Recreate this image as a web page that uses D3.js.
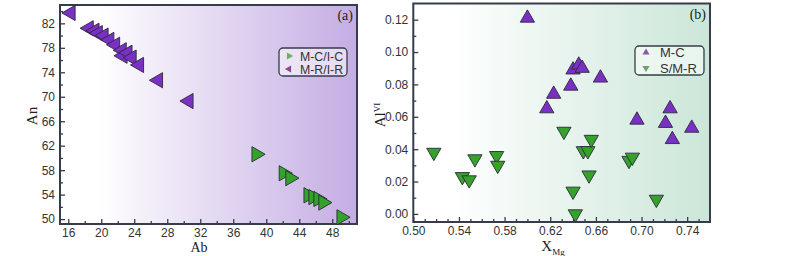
<!DOCTYPE html>
<html><head><meta charset="utf-8">
<script src="https://cdn.jsdelivr.net/npm/d3@7"></script>
<style>body{margin:0;background:#fff}svg{display:block}</style>
</head><body>
<svg id="c" width="800" height="256"></svg>
<script>
// ---- Panel (a) data ----
const mcIcAb = [38.8, 42.1, 42.9, 45.1, 45.7, 46.3, 46.9, 49.1];
const mcIcAn = [60.6, 57.5, 56.7, 53.9, 53.6, 53.3, 52.7, 50.3];
const mrIrAb = [16.3, 18.5, 19.2, 19.6, 20.3, 21.0, 21.7, 22.5, 22.6, 23.2, 23.7, 24.6, 26.9, 30.6];
const mrIrAn = [83.7, 81.2, 80.8, 80.4, 80.0, 79.3, 78.5, 77.6, 76.7, 77.2, 76.4, 75.2, 72.7, 69.3];
const abTicks = [16, 20, 24, 28, 32, 36, 40, 44, 48];
const anTicks = [50, 54, 58, 62, 66, 70, 74, 78, 82];
const legendA = ["M-C/I-C", "M-R/I-R"];
// ---- Panel (b) data ----
const mcX = [0.600, 0.617, 0.623, 0.638, 0.640, 0.645, 0.648, 0.664, 0.696, 0.721, 0.725, 0.727, 0.744];
const mcY = [0.121, 0.065, 0.074, 0.079, 0.089, 0.092, 0.090, 0.084, 0.058, 0.056, 0.065, 0.046, 0.053];
const smrX = [0.518, 0.543, 0.549, 0.554, 0.573, 0.574, 0.632, 0.640, 0.642, 0.649, 0.653, 0.654, 0.656, 0.689, 0.692, 0.713];
const smrY = [0.038, 0.023, 0.021, 0.034, 0.036, 0.030, 0.051, 0.014, 0.000, 0.039, 0.039, 0.024, 0.046, 0.033, 0.035, 0.009];
const xmgTicks = [0.50, 0.54, 0.58, 0.62, 0.66, 0.70, 0.74];
const alTicks = [0.00, 0.02, 0.04, 0.06, 0.08, 0.10, 0.12];
const legendB = ["M-C", "S/M-R"];

const svg = d3.select("#c");
const defs = svg.append("defs");
function grad(id, c) {
  const g = defs.append("linearGradient").attr("id", id).attr("x1", "0").attr("x2", "1").attr("y1", "0").attr("y2", "0");
  g.append("stop").attr("offset", "0").attr("stop-color", "#ffffff");
  g.append("stop").attr("offset", "0.12").attr("stop-color", "#ffffff");
  g.append("stop").attr("offset", "1").attr("stop-color", c);
}
grad("ga", "#c4ade3");
grad("gb", "#cbe6d8");

const AX = "#363c4a";
const sansF = "'Liberation Sans', Arial, sans-serif";
const serifF = "'Liberation Serif', 'Times New Roman', serif";

function panel(o) {
  const g = svg.append("g");
  const x = d3.scaleLinear().domain(o.xd).range([o.l, o.r]);
  const y = d3.scaleLinear().domain(o.yd).range([o.b, o.t]);
  g.append("rect").attr("x", o.l).attr("y", o.t).attr("width", o.r - o.l).attr("height", o.b - o.t)
    .attr("fill", `url(#${o.grad})`);
  const xAxMinor = d3.axisBottom(x).tickValues(o.xMinor).tickSize(-3).tickFormat("");
  const yAxMinor = d3.axisLeft(y).tickValues(o.yMinor).tickSize(-3).tickFormat("");
  const gxm = g.append("g").attr("transform", `translate(0,${o.b})`).call(xAxMinor);
  const gym = g.append("g").attr("transform", `translate(${o.l},0)`).call(yAxMinor);
  const xAx = d3.axisBottom(x).tickValues(o.xTicks).tickSize(-5).tickPadding(4).tickFormat(o.xFmt);
  const yAx = d3.axisLeft(y).tickValues(o.yTicks).tickSize(-5).tickPadding(5).tickFormat(o.yFmt);
  const gx = g.append("g").attr("transform", `translate(0,${o.b})`).call(xAx);
  const gy = g.append("g").attr("transform", `translate(${o.l},0)`).call(yAx);
  [gxm, gym, gx, gy].forEach(a => {
    a.select(".domain").remove();
    a.selectAll("line").attr("stroke", AX).attr("stroke-width", 1.3);
    a.selectAll("text").attr("fill", "#333").style("font-family", sansF).style("font-size", "12px");
  });
  g.append("rect").attr("x", o.l).attr("y", o.t).attr("width", o.r - o.l).attr("height", o.b - o.t)
    .attr("fill", "none").attr("stroke", AX).attr("stroke-width", 2);
  o.series.forEach(s => {
    g.append("g").selectAll("path").data(s.xs.map((v, i) => [v, s.ys[i]])).join("path")
      .attr("d", d3.symbol().type(d3.symbolTriangle).size(s.size)())
      .attr("transform", d => `translate(${x(d[0])},${y(d[1])}) rotate(${s.rot})`)
      .attr("fill", s.color).attr("stroke", "#2a2a3a").attr("stroke-width", 0.9);
  });
  g.append("text").attr("x", o.r - 4).attr("y", o.t + 15).attr("text-anchor", "end")
    .style("font-family", serifF).style("font-size", "14px").attr("fill", "#222").text(o.label);
  const lg = g.append("g");
  lg.append("rect").attr("x", o.leg.x).attr("y", o.leg.y).attr("width", o.leg.w).attr("height", o.leg.h)
    .attr("rx", 4).attr("fill", "#fff").attr("fill-opacity", 0.55).attr("stroke", AX).attr("stroke-width", 1.3);
  o.legItems.forEach((it, i) => {
    const cy = o.leg.y + o.leg.first + i * o.leg.gap;
    lg.append("path").attr("d", d3.symbol().type(d3.symbolTriangle).size(22)())
      .attr("transform", `translate(${o.leg.x + o.leg.mx},${cy}) rotate(${it.rot})`).attr("fill", it.color);
    lg.append("text").attr("x", o.leg.x + o.leg.tx).attr("y", cy + 4.5).style("font-family", sansF)
      .style("font-size", o.leg.fs + "px").attr("fill", "#333").text(it.name);
  });
  return { g, x, y };
}

panel({
  l: 60, r: 357, t: 5, b: 224, xd: [15, 51], yd: [49.2, 85], grad: "ga",
  xTicks: abTicks, yTicks: anTicks, xFmt: d3.format("d"), yFmt: d3.format("d"),
  xMinor: d3.range(18, 51, 4), yMinor: d3.range(52, 85, 4),
  series: [
    { xs: mrIrAb, ys: mrIrAn, color: "#7a30c4", rot: -90, size: 100 },
    { xs: mcIcAb, ys: mcIcAn, color: "#35a22c", rot: 90, size: 100 }
  ],
  label: "(a)",
  leg: { x: 279, y: 48, w: 68, h: 28, first: 8, gap: 13, mx: 10, tx: 21, fs: 12.3 },
  legItems: [
    { name: legendA[0], color: "#6fb060", rot: 90 },
    { name: legendA[1], color: "#8a4a82", rot: -90 }
  ]
});
svg.append("text").attr("x", 199).attr("y", 252).attr("text-anchor", "middle")
  .style("font-family", serifF).style("font-size", "14px").attr("fill", "#222").text("Ab");
svg.append("text").attr("transform", "translate(37,116) rotate(-90)").attr("text-anchor", "middle")
  .style("font-family", serifF).style("font-size", "15px").attr("fill", "#222").text("An");

panel({
  l: 413.3, r: 710, t: 3.5, b: 222, xd: [0.5, 0.76], yd: [-0.005, 0.13], grad: "gb",
  xTicks: xmgTicks, yTicks: alTicks, xFmt: d3.format(".2f"), yFmt: d3.format(".2f"),
  xMinor: d3.range(0.51, 0.76, 0.01).filter((v, i) => (i % 4) !== 3),
  yMinor: d3.range(0.01, 0.13, 0.02),
  series: [
    { xs: smrX, ys: smrY, color: "#35a22c", rot: 180, size: 88 },
    { xs: mcX, ys: mcY, color: "#7a30c4", rot: 0, size: 88 }
  ],
  label: "(b)",
  leg: { x: 635, y: 46, w: 69, h: 29, first: 6.5, gap: 15.5, mx: 11, tx: 25, fs: 13 },
  legItems: [
    { name: legendB[0], color: "#8b5aa6", rot: 0 },
    { name: legendB[1], color: "#6fa466", rot: 180 }
  ]
});
const xl = svg.append("text").attr("x", 553).attr("y", 251).attr("text-anchor", "middle")
  .style("font-family", serifF).style("font-size", "15px").attr("fill", "#222");
xl.append("tspan").text("X");
xl.append("tspan").attr("dy", 4).style("font-size", "9px").text("Mg");
const yl = svg.append("text").attr("transform", "translate(385,115) rotate(-90)").attr("text-anchor", "middle")
  .style("font-family", serifF).style("font-size", "15px").attr("fill", "#222");
yl.append("tspan").text("Al");
yl.append("tspan").attr("dy", -5).style("font-size", "9px").text("VI");
</script>
</body></html>
